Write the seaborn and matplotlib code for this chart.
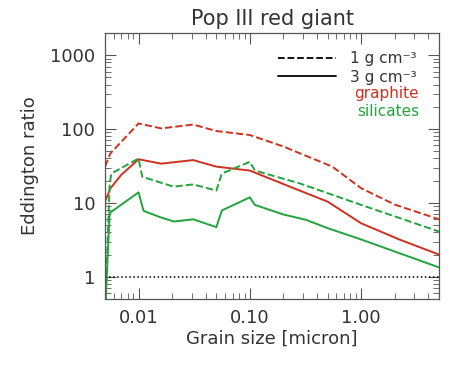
import matplotlib
matplotlib.use("Agg")
import matplotlib.pyplot as plt
import matplotlib.ticker as mticker
from matplotlib.lines import Line2D
import seaborn as sns
import pandas as pd

# values (log-log axes)
gra1_x = [0.005, 0.0056, 0.01, 0.016, 0.031, 0.05, 0.1, 0.2, 0.55, 1.0, 2.0, 5.0]
gra1_y = [31, 47, 119, 102, 115, 94, 83, 58, 31, 15.8, 9.5, 6.0]

gra3_x = [0.005, 0.0056, 0.007, 0.01, 0.016, 0.031, 0.05, 0.1, 0.2, 0.5, 0.7, 1.0, 2.2, 5.0]
gra3_y = [10.4, 15.8, 24, 39, 34, 38, 31, 27.4, 18, 10.4, 7.5, 5.3, 3.2, 2.0]

sil1_x = [0.005, 0.0055, 0.0057, 0.01, 0.0108, 0.0206, 0.031, 0.05, 0.056, 0.1, 0.111, 0.28, 1.0, 5.0]
sil1_y = [0.3, 18, 25, 40, 22.6, 16.6, 17.8, 14.7, 25, 36, 27.4, 18.4, 9.4, 4.1]

sil3_x = [0.005, 0.0055, 0.01, 0.0111, 0.0157, 0.0208, 0.031, 0.05, 0.056, 0.1, 0.111, 0.198, 0.32, 0.5, 1.0, 5.0]
sil3_y = [0.3, 7.3, 13.9, 7.8, 6.4, 5.6, 6.0, 4.7, 7.9, 11.9, 9.4, 7.0, 5.9, 4.55, 3.2, 1.34]

density_labels = ["1 g cm⁻³", "3 g cm⁻³"]

red = "#cf3020"
green = "#22a43c"

sns.set_theme(style="ticks")
plt.rcParams["font.family"] = ["DejaVu Sans"]

fig = plt.figure(figsize=(4.71, 3.66), dpi=100)
ax = fig.add_axes([0.223, 0.183, 0.709, 0.727])

series = [
    (gra1_x, gra1_y, red, "--"),
    (gra3_x, gra3_y, red, "-"),
    (sil1_x, sil1_y, green, "--"),
    (sil3_x, sil3_y, green, "-"),
]
for xs, ys, col, ls in series:
    df = pd.DataFrame({"a": xs, "r": ys})
    sns.lineplot(data=df, x="a", y="r", color=col, linestyle=ls, lw=1.4, ax=ax)

ax.axhline(1, color="black", ls=":", lw=1.1)

ax.set_xscale("log")
ax.set_yscale("log")
ax.set_xlim(0.005, 5)
ax.set_ylim(0.5, 2000)

ax.set_xticks([0.01, 0.1, 1.0])
ax.set_xticklabels(["0.01", "0.10", "1.00"])
ax.set_yticks([1, 10, 100, 1000])
ax.set_yticklabels(["1", "10", "100", "1000"])
ax.xaxis.set_minor_locator(mticker.LogLocator(subs=range(2, 10)))
ax.yaxis.set_minor_locator(mticker.LogLocator(subs=range(2, 10)))
ax.xaxis.set_minor_formatter(mticker.NullFormatter())
ax.yaxis.set_minor_formatter(mticker.NullFormatter())
ax.tick_params(which="both", direction="in", top=True, right=True, color="#555555",
               labelcolor="#333333")
ax.tick_params(which="major", length=8, width=0.8, labelsize=13, pad=7)
ax.tick_params(which="minor", length=4, width=0.6)
for s in ax.spines.values():
    s.set_color("#555555")
    s.set_linewidth(0.9)

ax.set_xlabel("Grain size [micron]", fontsize=13, labelpad=2, color="#333333")
ax.set_ylabel("Eddington ratio", fontsize=13, labelpad=8, color="#333333")
ax.set_title("Pop III red giant", fontsize=15, pad=6, color="#333333")

handles = [Line2D([], [], color="black", ls="--", lw=1.3),
           Line2D([], [], color="black", ls="-", lw=1.3)]
leg = ax.legend(handles, density_labels, loc="upper right",
                bbox_to_anchor=(0.95, 0.955), frameon=False, fontsize=11,
                handlelength=3.8, handletextpad=0.9, labelspacing=0.25, borderaxespad=0)
for t in leg.get_texts():
    t.set_color("#333333")
ax.text(0.94, 0.774, "graphite", color=red, fontsize=11, ha="right", va="center",
        transform=ax.transAxes)
ax.text(0.94, 0.703, "silicates", color=green, fontsize=11, ha="right", va="center",
        transform=ax.transAxes)

fig.savefig("out.png", dpi=100)
